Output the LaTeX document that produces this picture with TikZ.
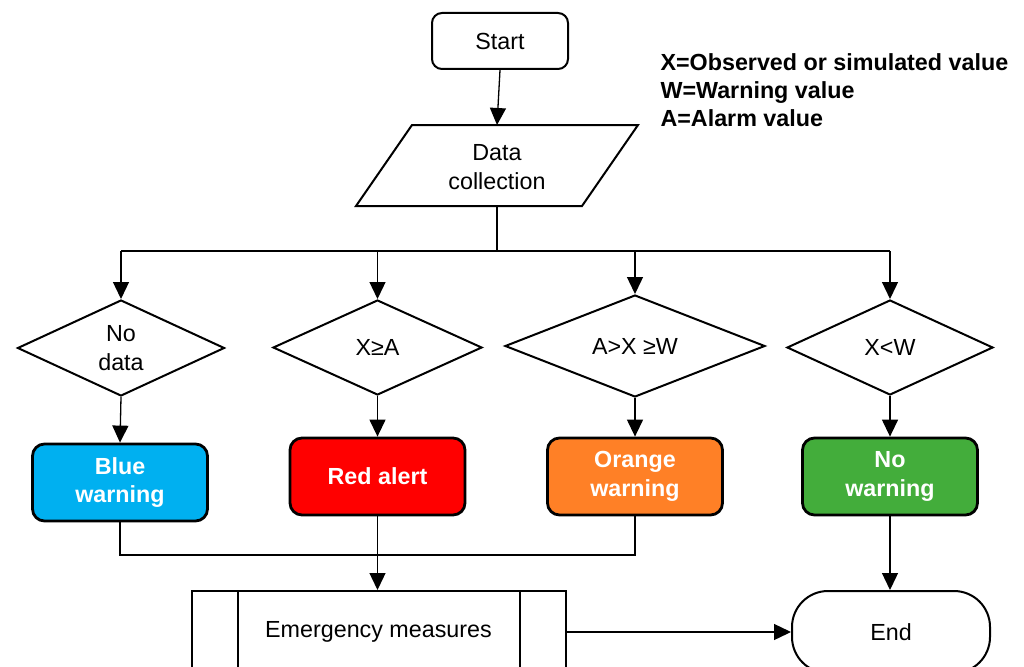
\documentclass[tikz,border=0pt]{standalone}
\usepackage{fontspec}
\setmainfont{Liberation Sans}
\usetikzlibrary{shapes.geometric,arrows.meta}
\definecolor{cblue}{RGB}{0,176,240}
\definecolor{cred}{RGB}{255,0,0}
\definecolor{corange}{RGB}{255,128,38}
\definecolor{cgreen}{RGB}{67,173,59}
\begin{document}
\begin{tikzpicture}[x=1pt,y=-1pt,font=\fontsize{23.3}{28.5}\selectfont,
  line/.style={line width=1.3pt},
  arr/.style={line width=1.3pt,-{Triangle[length=17pt,width=16pt]}},
  dec/.style={diamond,draw,line width=2pt,inner sep=0pt,align=center},
  alertbox/.style={draw,line width=2.8pt,rounded corners=12pt,minimum width=175pt,minimum height=77pt,text=white,font=\fontsize{23.3}{28.5}\selectfont\bfseries,align=center},
  outline/.style={draw,line width=2pt}]
\useasboundingbox (0,0) rectangle (1024,666);
% start
\node[outline,rounded corners=10pt,minimum width=136pt,minimum height=56pt] (start) at (500,41) {Start};
% data collection
\node[align=center] (data) at (497,167) {Data\\collection};
\draw[line width=2pt] (412,125) -- (638,125) -- (582,206) -- (356,206) -- cycle;
\coordinate (dtop) at (497,125);
\coordinate (dbot) at (497,206);
\coordinate (split) at (497,251);
\draw[arr] (start.south) -- (dtop);
% legend
\node[anchor=west,align=left,font=\fontsize{23.3}{28}\selectfont\bfseries] (legend) at (657,90) {X=Observed or simulated value\\W=Warning value\\A=Alarm value};
% decisions
\node[dec,minimum width=207pt,minimum height=96pt] (d1) at (121,348) {No\\data};
\node[dec,minimum width=209pt,minimum height=95pt] (d2) at (377.5,347.5) {X≥A};
\node[dec,minimum width=260pt,minimum height=94pt] (d3) at (635,346) {A>X ≥W};
\node[dec,minimum width=206pt,minimum height=95pt] (d4) at (890,347.5) {X<W};
\draw[line] (dbot) -- (split);
\draw[line] (d1.north |- split) -- (d4.north |- split);
\draw[arr] (d1.north |- split) -- (d1.north);
\draw[arr] (d2.north |- split) -- (d2.north);
\draw[arr] (d3.north |- split) -- (d3.north);
\draw[arr] (d4.north |- split) -- (d4.north);
% alert boxes
\node[alertbox,fill=cblue] (b1) at (120,482.5) {Blue\\warning};
\node[alertbox,fill=cred] (b2) at (377.5,476.5) {Red alert};
\node[alertbox,fill=corange] (b3) at (635,476.5) {Orange\\warning};
\node[alertbox,fill=cgreen] (b4) at (890,476.5) {No\\warning};
\draw[arr] (d1.south) -- (b1.north);
\draw[arr] (d2.south) -- (b2.north);
\draw[arr] (d3.south) -- (b3.north);
\draw[arr] (d4.south) -- (b4.north);
% emergency and end
\node[outline,minimum width=374pt,minimum height=82pt] (em) at (378.5,632) {Emergency measures};
\draw[line width=2pt] ([xshift=47pt]em.north west) -- ([xshift=47pt]em.south west);
\draw[line width=2pt] ([xshift=-47pt]em.north east) -- ([xshift=-47pt]em.south east);
\node[outline,rounded corners=36pt,minimum width=198pt,minimum height=82pt] (end) at (891,632) {End};
\coordinate (m) at (377.5,555);
\draw[line] (b1.south) -- (b1.south |- m) -- (b3.south |- m) -- (b3.south);
\draw[arr] (b2.south) -- (b2.south |- em.north);
\draw[arr] (em.east) -- (end.west);
\draw[arr] (b4.south) -- (b4.south |- end.north);
\end{tikzpicture}
\end{document}
